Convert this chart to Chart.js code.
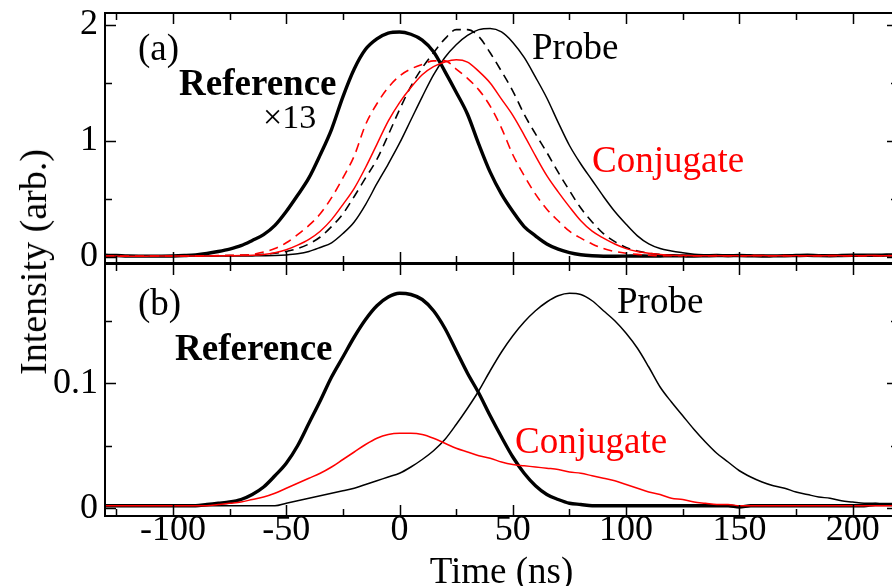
<!DOCTYPE html>
<html>
<head>
<meta charset="utf-8">
<script src="https://cdn.jsdelivr.net/npm/chart.js@4.4.1/dist/chart.umd.min.js"></script>
<style>
    html, body { margin: 0; padding: 0; background: #fff; overflow: hidden; }
    #wrap { position: relative; width: 892px; height: 586px; overflow: hidden; }
    canvas { position: absolute; left: 0; }
    #chartA { top: 0; }
    #chartB { top: 262px; }
    #yTitle {
        position: absolute; left: 33px; top: 262px;
        transform: translate(-50%, -50%) rotate(-90deg);
        font: 38px "Liberation Serif", "Times New Roman", serif;
        white-space: nowrap; color: #000;
    }
</style>
</head>
<body>
<div id="wrap">
    <canvas id="chartA" width="898" height="300"></canvas>
    <canvas id="chartB" width="898" height="324"></canvas>
    <div id="yTitle">Intensity (arb.)</div>
</div>
<script>
// Eje de tiempo común (ns)
const time = [-130, -125, -120, -115, -110, -105, -100, -95, -90, -85, -80, -75, -70, -65, -60, -55, -50, -45, -40, -35,
    -30, -25, -20, -15, -10, -5, 0, 5, 10, 15, 20, 25, 30, 35, 40, 45, 50, 55, 60, 65,
    70, 75, 80, 85, 90, 95, 100, 105, 110, 115, 120, 125, 130, 135, 140, 145, 150, 155, 160, 165,
    170, 175, 180, 185, 190, 195, 200, 205, 210, 215, 220];

// Panel (a): referencia x13, sonda y conjugado (continuas y discontinuas)
const refA = [0.012, 0.010, 0.006, 0.005, 0.005, 0.005, 0.006, 0.010, 0.016, 0.028, 0.045, 0.066, 0.095, 0.14, 0.19, 0.27, 0.39, 0.53, 0.68, 0.88,
    1.10, 1.38, 1.62, 1.79, 1.88, 1.93, 1.94, 1.92, 1.87, 1.77, 1.60, 1.42, 1.23, 0.97, 0.73, 0.54, 0.39, 0.26, 0.18, 0.11,
    0.065, 0.035, 0.017, 0.008, 0.004, 0.004, 0.005, 0.006, 0.005, 0.006, 0.008, 0.007, 0.006, 0.008, 0.010, 0.008, 0.010, 0.008, 0.006, 0.007,
    0.008, 0.010, 0.012, 0.009, 0.008, 0.010, 0.012, 0.014, 0.012, 0.015, 0.016];
const probeA = [0.005, 0.005, 0.004, 0.004, 0.005, 0.005, 0.005, 0.005, 0.005, 0.005, 0.005, 0.005, 0.006, 0.007, 0.008, 0.010, 0.015, 0.025, 0.045, 0.08,
    0.12, 0.20, 0.30, 0.45, 0.63, 0.80, 0.98, 1.18, 1.38, 1.57, 1.72, 1.83, 1.91, 1.96, 1.97, 1.94, 1.85, 1.72, 1.55, 1.37,
    1.16, 0.96, 0.80, 0.66, 0.52, 0.39, 0.28, 0.18, 0.11, 0.07, 0.05, 0.035, 0.022, 0.015, 0.010, 0.010, 0.008, 0.009, 0.010, 0.008,
    0.009, 0.011, 0.010, 0.009, 0.010, 0.012, 0.010, 0.011, 0.012, 0.013, 0.012];
const probeDashA = [0.005, 0.005, 0.005, 0.004, 0.004, 0.005, 0.005, 0.005, 0.006, 0.007, 0.008, 0.010, 0.012, 0.015, 0.020, 0.030, 0.045, 0.07, 0.11, 0.17,
    0.26, 0.37, 0.52, 0.68, 0.84, 1.05, 1.27, 1.47, 1.63, 1.76, 1.88, 1.96, 1.96, 1.90, 1.76, 1.60, 1.43, 1.23, 1.06, 0.90,
    0.73, 0.57, 0.42, 0.30, 0.20, 0.13, 0.08, 0.05, 0.03, 0.02, 0.013, 0.010, 0.008, 0.008, 0.009, 0.008, 0.007, 0.008, 0.009, 0.008,
    0.008, 0.009, 0.008, 0.008, 0.009, 0.008, 0.008, 0.009, 0.008, 0.008, 0.009];
const conjA = [0.006, 0.005, 0.004, 0.004, 0.005, 0.006, 0.005, 0.006, 0.006, 0.007, 0.008, 0.009, 0.010, 0.013, 0.020, 0.035, 0.06, 0.10, 0.15, 0.22,
    0.32, 0.45, 0.59, 0.77, 0.97, 1.17, 1.33, 1.46, 1.57, 1.64, 1.68, 1.70, 1.68, 1.60, 1.50, 1.36, 1.22, 1.05, 0.87, 0.70,
    0.56, 0.43, 0.31, 0.22, 0.16, 0.11, 0.07, 0.045, 0.03, 0.02, 0.013, 0.010, 0.008, 0.008, 0.009, 0.008, 0.008, 0.009, 0.010, 0.008,
    0.008, 0.009, 0.008, 0.008, 0.010, 0.009, 0.008, 0.009, 0.010, 0.008, 0.009];
const conjDashA = [0.006, 0.006, 0.005, 0.005, 0.005, 0.006, 0.006, 0.006, 0.007, 0.008, 0.009, 0.011, 0.014, 0.020, 0.04, 0.07, 0.12, 0.19, 0.27, 0.37,
    0.51, 0.68, 0.87, 1.14, 1.32, 1.46, 1.56, 1.62, 1.66, 1.69, 1.69, 1.62, 1.54, 1.44, 1.30, 1.11, 0.88, 0.70, 0.54, 0.41,
    0.31, 0.22, 0.16, 0.11, 0.07, 0.045, 0.03, 0.02, 0.013, 0.008, 0.008, 0.009, 0.008, 0.008, 0.009, 0.008, 0.008, 0.009, 0.008, 0.008,
    0.009, 0.008, 0.008, 0.009, 0.008, 0.008, 0.009, 0.008, 0.008, 0.009, 0.008];

// Panel (b): referencia, sonda y conjugado
const refB = [0.002, 0.002, 0.002, 0.002, 0.002, 0.002, 0.002, 0.002, 0.002, 0.003, 0.004, 0.005, 0.007, 0.011, 0.017, 0.026, 0.036, 0.050, 0.068, 0.086,
    0.105, 0.121, 0.137, 0.151, 0.162, 0.169, 0.172, 0.171, 0.167, 0.158, 0.144, 0.126, 0.108, 0.092, 0.074, 0.057, 0.041, 0.028, 0.018, 0.011,
    0.007, 0.004, 0.003, 0.002, 0.002, 0.002, 0.002, 0.002, 0.002, 0.002, 0.002, 0.002, 0.002, 0.002, 0.002, 0.002, 0.001, 0.002, 0.002, 0.002,
    0.002, 0.002, 0.002, 0.002, 0.002, 0.002, 0.002, 0.002, 0.003, 0.003, 0.003];
const probeB = [0.002, 0.002, 0.002, 0.002, 0.002, 0.002, 0.002, 0.002, 0.002, 0.002, 0.002, 0.002, 0.002, 0.002, 0.002, 0.002, 0.004, 0.006, 0.008, 0.010,
    0.012, 0.014, 0.016, 0.019, 0.022, 0.025, 0.028, 0.033, 0.039, 0.046, 0.055, 0.067, 0.080, 0.094, 0.110, 0.125, 0.138, 0.149, 0.158, 0.165,
    0.170, 0.172, 0.171, 0.166, 0.158, 0.150, 0.140, 0.128, 0.113, 0.097, 0.085, 0.074, 0.063, 0.053, 0.044, 0.037, 0.030, 0.025, 0.021, 0.018,
    0.016, 0.013, 0.011, 0.009, 0.008, 0.006, 0.005, 0.004, 0.004, 0.003, 0.003];
const conjB = [0.002, 0.002, 0.002, 0.002, 0.002, 0.002, 0.002, 0.002, 0.002, 0.002, 0.003, 0.004, 0.005, 0.007, 0.009, 0.012, 0.016, 0.020, 0.024, 0.028,
    0.033, 0.039, 0.045, 0.051, 0.056, 0.059, 0.060, 0.060, 0.059, 0.056, 0.052, 0.048, 0.045, 0.042, 0.040, 0.037, 0.035, 0.034, 0.033, 0.032,
    0.031, 0.029, 0.028, 0.026, 0.024, 0.022, 0.019, 0.016, 0.013, 0.011, 0.008, 0.007, 0.005, 0.004, 0.003, 0.003, 0.002, 0.002, 0.002, 0.002,
    0.002, 0.002, 0.002, 0.002, 0.002, 0.002, 0.002, 0.002, 0.002, 0.002, 0.002];

// Marcas de los ejes
const xTicks = [-125, -100, -75, -50, -25, 0, 25, 50, 75, 100, 125, 150, 175, 200];
const xMajor = [-100, -50, 0, 50, 100, 150, 200];
const yTicksA = [0, 0.5, 1, 1.5, 2];
const yMajorA = [0, 1, 2];
const yTicksB = [0, 0.05, 0.1, 0.15];
const yMajorB = [0, 0.1];

const SERIF = "'Liberation Serif', 'Times New Roman', serif";
const RED = "#ff0000";
Chart.defaults.font.family = SERIF;
Chart.defaults.color = "#000";

// Convierte un array de valores en puntos {x, y}
const pts = arr => time.map((t, i) => ({ x: t, y: arr[i] }));

// Quita el relleno extra que Chart.js reserva para los rótulos de los extremos
function noPad(s) {
    s.paddingTop = 0; s.paddingBottom = 0;
    s.paddingLeft = 0; s.paddingRight = 0;
}

// Plugin: marco, marcas hacia dentro y rótulos de texto
const framePlugin = {
    id: "frameTicks",
    afterDatasetsDraw(chart, args, opts) {
        const { ctx, chartArea: a, scales: { x, y } } = chart;
        ctx.save();
        ctx.strokeStyle = "#000";
        ctx.lineWidth = 1.5;
        ctx.beginPath();
        x.ticks.forEach(t => {
            const px = Math.round(x.getPixelForValue(t.value)) + 0.5;
            const len = xMajor.includes(t.value) ? 11 : 7;
            ctx.moveTo(px, a.top); ctx.lineTo(px, a.top + len);
            ctx.moveTo(px, a.bottom); ctx.lineTo(px, a.bottom - len);
        });
        y.ticks.forEach(t => {
            const py = Math.round(y.getPixelForValue(t.value)) + 0.5;
            const len = opts.major.includes(t.value) ? 11 : 7;
            ctx.moveTo(a.left, py); ctx.lineTo(a.left + len, py);
            ctx.moveTo(a.right, py); ctx.lineTo(a.right - len, py);
        });
        ctx.stroke();
        ctx.lineWidth = 2;
        ctx.strokeRect(a.left, a.top, a.right - a.left, a.bottom - a.top);
        // Rótulos
        ctx.textBaseline = "alphabetic";
        ctx.textAlign = "left";
        opts.labels.forEach(l => {
            ctx.font = `${l.bold ? "bold " : ""}${l.size || 37}px ${SERIF}`;
            ctx.fillStyle = l.color || "#000";
            ctx.fillText(l.text, l.x, l.y);
        });
        ctx.restore();
    }
};

// Opciones comunes del eje x
function xScale(showLabels) {
    return {
        type: "linear", min: -130, max: 220,
        display: showLabels,
        grid: { display: false, drawTicks: false, tickLength: 0 }, border: { display: false },
        afterBuildTicks: s => { s.ticks = xTicks.map(v => ({ value: v })); },
        afterFit: s => { noPad(s); if (showLabels) s.height = 70; },
        ticks: {
            autoSkip: false, maxRotation: 0, padding: -3,
            font: { size: 36, lineHeight: 1 },
            callback: v => xMajor.includes(v) ? String(v) : ""
        },
        title: {
            display: showLabels, text: "Time (ns)", padding: { top: 0, bottom: -6 },
            font: { size: 37, lineHeight: 1 }
        }
    };
}

// Opciones comunes del eje y
function yScale(min, max, ticks, major) {
    return {
        type: "linear", min, max,
        grid: { display: false, drawTicks: false, tickLength: 0 }, border: { display: false },
        afterBuildTicks: s => { s.ticks = ticks.map(v => ({ value: v })); },
        afterFit: s => { noPad(s); s.width = 105; },
        ticks: {
            autoSkip: false, padding: 7,
            font: { size: 36 },
            callback: v => major.includes(v) ? String(v) : ""
        }
    };
}

function line(data, color, width, dash) {
    return {
        data: pts(data), borderColor: color, borderWidth: width,
        borderDash: dash || [], pointRadius: 0, fill: false,
        cubicInterpolationMode: "monotone"
    };
}

// Panel superior (a)
new Chart(document.getElementById("chartA"), {
    type: "line",
    data: {
        datasets: [
            line(conjDashA, RED, 1.6, [9, 6]),
            line(conjA, RED, 1.5),
            line(probeDashA, "#000", 1.6, [9, 6]),
            line(probeA, "#000", 1.5),
            line(refA, "#000", 3.4)
        ]
    },
    options: {
        responsive: false, animation: false, devicePixelRatio: 1,
        layout: { padding: { top: 13, right: 0, bottom: 37, left: 0 } },
        plugins: {
            legend: { display: false }, tooltip: { enabled: false },
            frameTicks: {
                major: yMajorA,
                labels: [
                    { text: "(a)", x: 138, y: 60 },
                    { text: "Reference", x: 179, y: 95, bold: true },
                    { text: "\u00d713", x: 263, y: 128, size: 34 },
                    { text: "Probe", x: 532, y: 59 },
                    { text: "Conjugate", x: 592, y: 172, color: RED }
                ]
            }
        },
        scales: { x: xScale(false), y: yScale(-0.0544, 2.1036, yTicksA, yMajorA) }
    },
    plugins: [framePlugin]
});

// Panel inferior (b)
new Chart(document.getElementById("chartB"), {
    type: "line",
    data: {
        datasets: [
            line(conjB, RED, 1.5),
            line(probeB, "#000", 1.5),
            line(refB, "#000", 3.4)
        ]
    },
    options: {
        responsive: false, animation: false, devicePixelRatio: 1,
        layout: { padding: { top: 2, right: 0, bottom: 0, left: 0 } },
        plugins: {
            legend: { display: false }, tooltip: { enabled: false },
            frameTicks: {
                major: yMajorB,
                labels: [
                    { text: "(b)", x: 138, y: 53 },
                    { text: "Reference", x: 175, y: 98, bold: true },
                    { text: "Probe", x: 617, y: 51 },
                    { text: "Conjugate", x: 515, y: 191, color: RED }
                ]
            }
        },
        scales: { x: xScale(true), y: yScale(-0.0062, 0.1954, yTicksB, yMajorB) }
    },
    plugins: [framePlugin]
});
</script>
</body>
</html>
